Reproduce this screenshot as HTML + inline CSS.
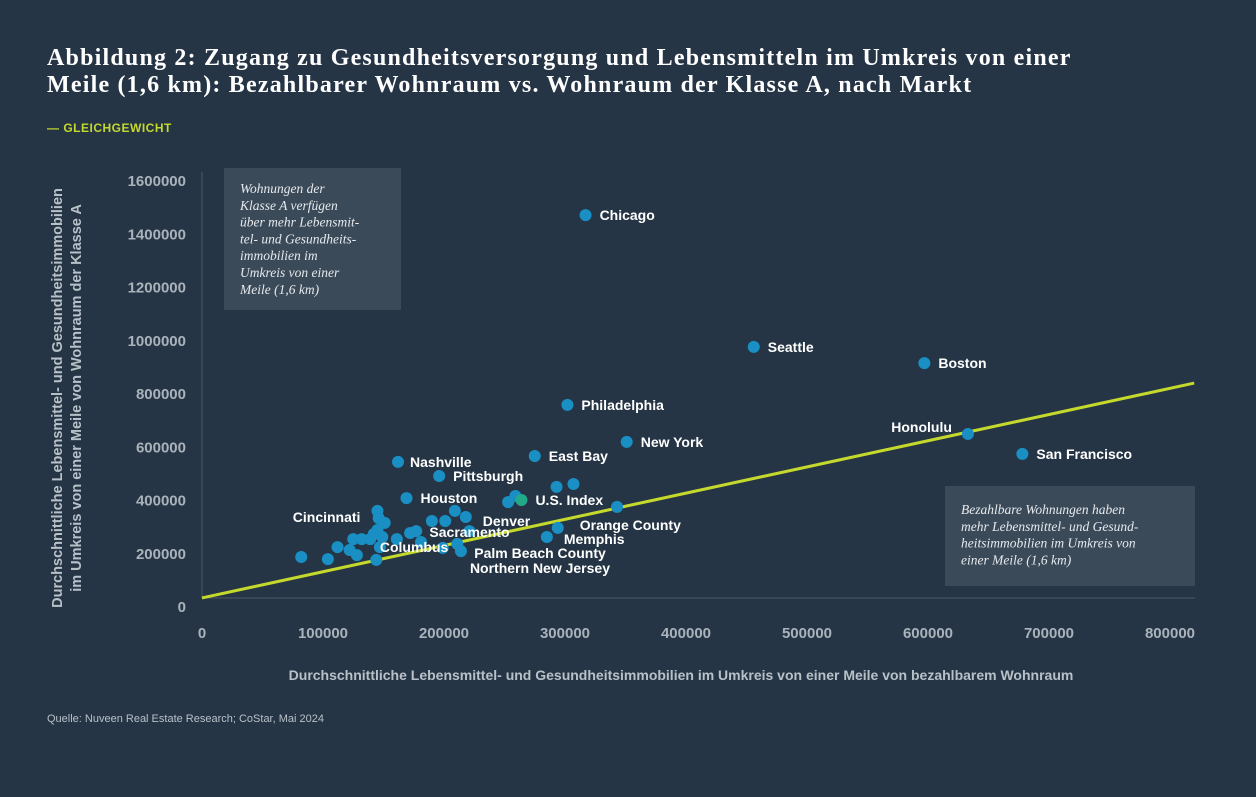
<!DOCTYPE html>
<html><head><meta charset="utf-8"><style>
html,body{margin:0;padding:0;background:#253545;}
body{width:1256px;height:797px;position:relative;overflow:hidden;font-family:"Liberation Sans",sans-serif;}
.title{position:absolute;left:47px;top:45px;font-family:"Liberation Serif",serif;font-weight:bold;font-size:24px;letter-spacing:1.2px;line-height:27px;color:#fff;white-space:nowrap;}
.legend{position:absolute;left:47px;top:121px;font-size:12px;font-weight:bold;color:#c5d92d;letter-spacing:0.5px;}
.src{position:absolute;left:47px;top:713px;font-size:11px;color:#b9c1c8;}
</style></head><body>
<div class="title">Abbildung 2: Zugang zu Gesundheitsversorgung und Lebensmitteln im Umkreis von einer<br>Meile (1,6 km): Bezahlbarer Wohnraum vs. Wohnraum der Klasse A, nach Markt</div>
<div class="legend">— GLEICHGEWICHT</div>
<div class="src">Quelle: Nuveen Real Estate Research; CoStar, Mai 2024</div>
<svg id="chart" width="1256" height="797" style="position:absolute;left:0;top:0"></svg>
<script>
const xTicks=[0,100000,200000,300000,400000,500000,600000,700000,800000];
const yTicks=[0,200000,400000,600000,800000,1000000,1200000,1400000,1600000];
const names=["Chicago","Seattle","Boston","Philadelphia","New York","Honolulu","San Francisco","East Bay","Nashville","Pittsburgh","Houston","U.S. Index","Cincinnati","Denver","Sacramento","Orange County","Memphis","Palm Beach County","Northern New Jersey","Columbus"];
const xVals=[317000,456000,597000,302000,351000,633000,678000,275000,162000,196000,169000,264000,145000,218000,221000,294000,285000,211000,214000,147000];
const yVals=[1472000,977000,916000,759000,620000,650000,575000,567000,545000,492000,409000,402000,361000,338000,285000,297000,263000,237000,210000,225000];
const otherX=[253000,259000,293000,307000,343000,209000,190000,201000,146000,151000,145000,142000,172000,177000,199000,181000,161000,125000,132000,139000,149000,112000,122000,128000,82000,104000,144000];
const otherY=[394000,417000,451000,462000,376000,361000,323000,323000,334000,316000,289000,274000,278000,285000,222000,244000,255000,255000,255000,255000,263000,225000,214000,195000,188000,180000,177000];
const eqX=[0,820000];
const eqY=[34000,841000];
// label offsets (layout only)
const lblDx=[14,14,14,14,14,-16,14,14,12,14,14,14,-17,17,-40,22,17,17,9,0];
const lblDy=[0,0,0,0,0,-7,0,0,0,0,0,0,6,4,1,-3,2,9,17,0];
const lblAnchor=["start","start","start","start","start","end","start","start","start","start","start","start","end","start","start","start","start","start","start","start"];

const NS="http://www.w3.org/2000/svg";
const svg=document.getElementById('chart');
const X=v=>202+v*0.00121;
const Y=v=>607-v*0.00026625;
function mk(t,a,txt){const e=document.createElementNS(NS,t);for(const k in a)e.setAttribute(k,a[k]);if(txt!==undefined)e.textContent=txt;svg.appendChild(e);return e;}

let e;
e=mk('rect',{x:224,y:168,width:177,height:142,fill:'#3b4a58'});


e=mk('rect',{x:945,y:486,width:250,height:100,fill:'#3b4a58'});


const box1=["Wohnungen der","Klasse A verfügen","über mehr Lebensmit-","tel- und Gesundheits-","immobilien im","Umkreis von einer","Meile (1,6 km)"];
box1.forEach((s,i)=>{e=mk('text',{x:240,y:193+i*16.8,fill:'#e6eaee','font-family':'Liberation Serif, serif','font-style':'italic','font-size':13.5},s);

});
const box2=["Bezahlbare Wohnungen haben","mehr Lebensmittel- und Gesund-","heitsimmobilien im Umkreis von","einer Meile (1,6 km)"];
box2.forEach((s,i)=>{e=mk('text',{x:961,y:514+i*16.8,fill:'#e6eaee','font-family':'Liberation Serif, serif','font-style':'italic','font-size':13.5},s);

});

e=mk('line',{x1:202,y1:598,x2:1195,y2:598,stroke:'#4a5866','stroke-width':1});


e=mk('line',{x1:202,y1:172,x2:202,y2:598,stroke:'#4a5866','stroke-width':1});



yTicks.forEach(v=>{e=mk('text',{x:186,y:Y(v)+5,fill:'#aab3bb','font-size':15,'font-weight':'bold','text-anchor':'end'},String(v));

});
xTicks.forEach(v=>{e=mk('text',{x:X(v),y:638,fill:'#aab3bb','font-size':15,'font-weight':'bold','text-anchor':'middle'},String(v));

});

e=mk('text',{x:681,y:680,fill:'#b9c1c8','font-size':14,'font-weight':'bold','text-anchor':'middle'},'Durchschnittliche Lebensmittel- und Gesundheitsimmobilien im Umkreis von einer Meile von bezahlbarem Wohnraum');


const yt=mk('g',{transform:'translate(62,398) rotate(-90)'});


["Durchschnittliche Lebensmittel- und Gesundheitsimmobilien","im Umkreis von einer Meile von Wohnraum der Klasse A"].forEach((s,i)=>{const t=document.createElementNS(NS,'text');t.setAttribute('x',0);t.setAttribute('y',i*19);t.setAttribute('fill','#b9c1c8');t.setAttribute('font-size',14.5);t.setAttribute('font-weight','bold');t.setAttribute('text-anchor','middle');t.textContent=s;yt.appendChild(t);});

e=mk('line',{x1:X(eqX[0]),y1:Y(eqY[0]),x2:X(eqX[1]),y2:Y(eqY[1]),stroke:'#c5d92d','stroke-width':3});



otherX.forEach((v,i)=>{e=mk('circle',{cx:X(v),cy:Y(otherY[i]),r:6,fill:'#1a8fc4'});

});
names.forEach((n,i)=>{e=mk('circle',{cx:X(xVals[i]),cy:Y(yVals[i]),r:6,fill:n==='U.S. Index'?'#22a98a':'#1a8fc4'});

});
names.forEach((n,i)=>{e=mk('text',{x:X(xVals[i])+lblDx[i],y:Y(yVals[i])+lblDy[i]+5,fill:'#fff','font-size':14,'font-weight':'bold','text-anchor':lblAnchor[i]},n);

});
</script>
</body></html>
